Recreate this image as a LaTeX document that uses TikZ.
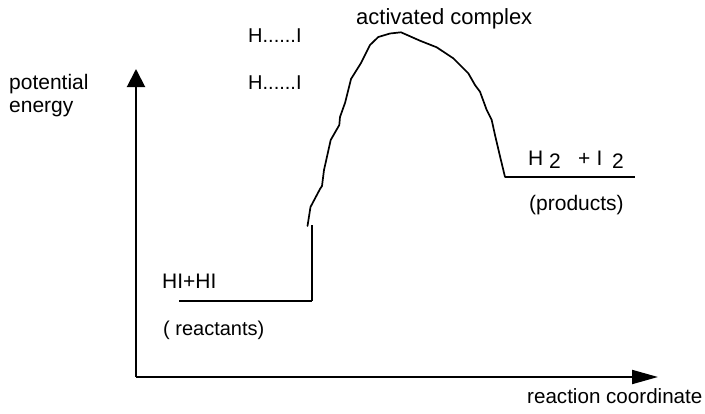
\documentclass[tikz,border=0pt]{standalone}
\usepackage{fontspec}
\setmainfont{Liberation Sans}
\usetikzlibrary{arrows.meta}
\begin{document}
\begin{tikzpicture}[x=1pt,y=-1pt,
  lbl/.style={anchor=base west,inner sep=0pt,font=\fontsize{21}{24}\selectfont},
  smalllbl/.style={lbl,font=\fontsize{20}{24}\selectfont},
  biglbl/.style={lbl,font=\fontsize{22}{24}\selectfont},
  axisline/.style={line width=2pt},
  level/.style={line width=1.6pt},
  curveline/.style={line width=1.7pt,line join=round,line cap=round}]
\useasboundingbox (0,0) rectangle (705,413);
% axes
\coordinate (O) at (136,377);
\coordinate (Ytip) at (136,69);
\coordinate (Xtip) at (658,377);
\draw[axisline,-{Triangle[length=18pt,width=18pt]}] (O) -- (Ytip);
\draw[axisline,-{Triangle[length=26pt,width=14pt]}] (O) -- (Xtip);
% reactant level
\coordinate (R1) at (179,301);
\coordinate (R2) at (312,301);
\coordinate (R3) at (312,225);
\draw[level] (R1) -- (R2);
\draw[line width=2.6pt] (R2) -- (R3);
% product level
\coordinate (P1) at (505,177);
\coordinate (P2) at (635,177);
\draw[level] (P1) -- (P2);
% energy curve
\coordinate (C0) at (307.5,226);
\draw[curveline] (C0) -- (310.5,207) -- (320,189) -- (322,186) -- (324,170) -- (326.7,158)
  -- (330.7,140) -- (333,136) -- (339.3,125) -- (340,117) -- (345,103) -- (351,79)
  -- (361,63) -- (370,45) -- (378.3,37) -- (390,33.5) -- (401,32.3) -- (420,40.7)
  -- (436.7,47.3) -- (453.3,58.3) -- (468.3,73.3) -- (475,85) -- (480,91.7)
  -- (486.7,110) -- (491.7,120) -- (495,135) -- (499.3,153.3) -- (P1);
% labels
\node[lbl] (pot) at (9,89) {potential};
\node[lbl] (ene) at (9,112) {energy};
\node[smalllbl] (hi1) at (248,42) {H......I};
\node[smalllbl] (hi2) at (248,89) {H......I};
\node[biglbl] (act) at (356,24) {activated complex};
\node[lbl] (hihi) at (162,288) {HI+HI};
\node[smalllbl] (react) at (163,335) {( reactants)};
\node[lbl] (h) at (528,165) {H};
\node[lbl] (h2) at (549,168) {2};
\node[lbl] (plus) at (578,165) {+};
\node[lbl] (i) at (596.5,165) {I};
\node[lbl] (i2) at (612,168) {2};
\node[lbl] (prod) at (529,210) {(products)};
\node[lbl,font=\fontsize{20.6}{24}\selectfont] (rc) at (527,403) {reaction coordinate};
\end{tikzpicture}
\end{document}
